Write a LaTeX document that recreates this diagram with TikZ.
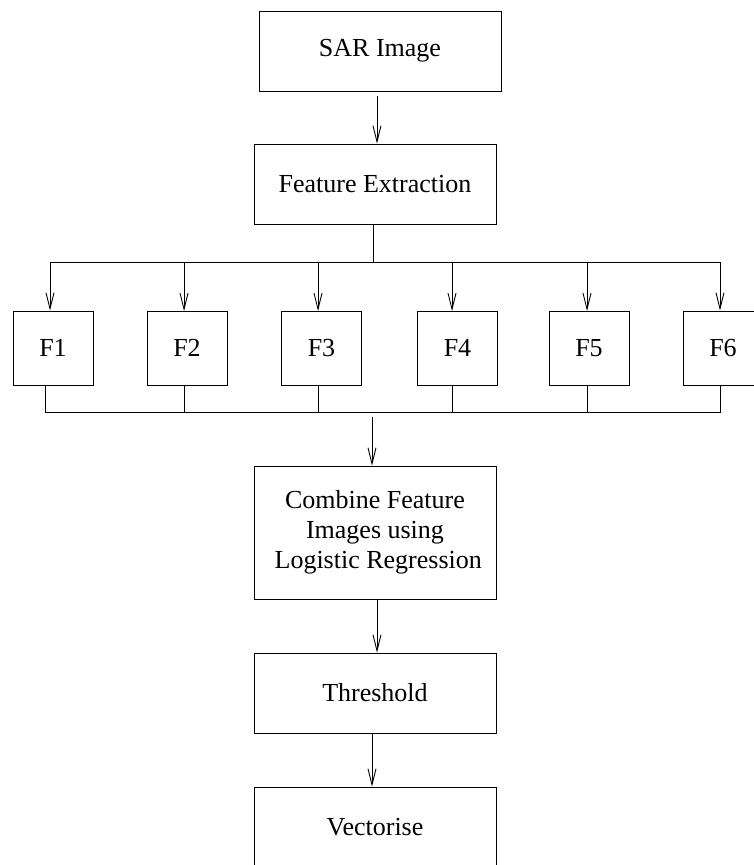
\documentclass[tikz,border=0pt]{standalone}
\usepackage{fontspec}
\setmainfont{Liberation Serif}
\usetikzlibrary{arrows.meta}
\begin{document}
\begin{tikzpicture}[x=1pt,y=-1pt,
  box/.style={draw,line width=0.9pt,inner sep=0pt,font=\fontsize{26}{30}\selectfont,align=center},
  wide/.style={box,minimum width=242pt,minimum height=80pt},
  fbox/.style={box,minimum width=80pt,minimum height=74pt},
  conn/.style={line width=0.9pt},
  arr/.style={conn,-{Straight Barb[length=16pt,width=8pt,line width=0.9pt]}}]
\useasboundingbox (0,0) rectangle (753,865);
\node[wide] (sar) at (380,51) {SAR Image};
\node[wide] (fe) at (375,184) {Feature Extraction};
\node[fbox] (f1) at (53,348) {F1};
\node[fbox] (f2) at (187,348) {F2};
\node[fbox] (f3) at (321.5,348) {F3};
\node[fbox] (f4) at (457.5,348) {F4};
\node[fbox] (f5) at (589,348) {F5};
\node[fbox] (f6) at (723,348) {F6};
\node[wide,minimum height=133pt] (comb) at (375,532.5) {Combine Feature\\Images using\\\ Logistic Regression};
\node[wide] (thr) at (375,693) {Threshold};
\node[wide] (vec) at (375,827) {Vectorise};
% top bus
\coordinate (tl) at (50,262);
\coordinate (tr) at (720,262);
\coordinate (bl) at (45,412);
\coordinate (br) at (720,412);
\draw[arr] ([xshift=-3pt,yshift=-5pt]sar.south) -- ([xshift=2pt]fe.north);
\draw[conn] ([xshift=-2pt]fe.south) -- ([xshift=-2pt]fe.south |- tl);
\draw[conn] (tl) -- (tr);
\draw[arr] (tl) -- (tl |- f1.north);
\draw[arr] (184,262) -- (184,311);
\draw[arr] (318,262) -- (318,311);
\draw[arr] (452,262) -- (452,311);
\draw[arr] (587,262) -- (587,311);
\draw[arr] (tr) -- (tr |- f6.north);
% bottom bus
\draw[conn] (bl |- f1.south) -- (bl) -- (br) -- (br |- f6.south);
\draw[conn] (184,385) -- (184,412);
\draw[conn] (318,385) -- (318,412);
\draw[conn] (452,385) -- (452,412);
\draw[conn] (587,385) -- (587,412);
\draw[arr] (372,417) -- (comb.north -| 372,0);
\draw[arr] ([xshift=2pt]comb.south) -- ([xshift=2pt]thr.north);
\draw[arr] ([xshift=-3pt]thr.south) -- ([xshift=-3pt]vec.north);
\end{tikzpicture}
\end{document}
